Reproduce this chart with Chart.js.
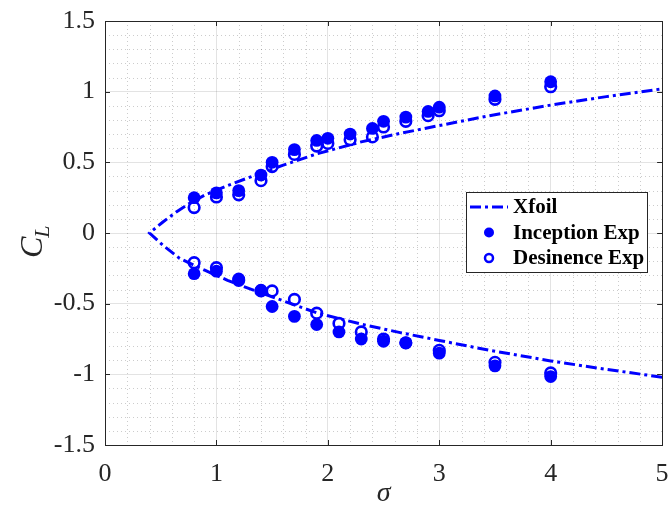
<!DOCTYPE html>
<html>
<head>
<meta charset="utf-8">
<script src="https://cdn.jsdelivr.net/npm/chart.js"></script>
<style>
  html, body { margin: 0; padding: 0; background: #fff; }
  #wrap { width: 670px; height: 515px; }
</style>
</head>
<body>
<div id="wrap"><canvas id="chart" width="670" height="515"></canvas></div>
<script>
// === DATOS ===
// Curva Xfoil (sigma, CL): rama inferior -> vértice -> rama superior
const xfoilSigma = [5.00, 4.50, 4.00, 3.45, 3.00, 2.65, 2.30, 1.90, 1.60, 1.35, 1.10, 0.90, 0.67, 0.52, 0.40,
                    0.52, 0.64, 0.76, 0.90, 1.10, 1.35, 1.60, 1.90, 2.30, 2.65, 3.00, 3.45, 4.00, 4.50, 5.00];
const xfoilCL = [-1.02, -0.965, -0.905, -0.83, -0.76, -0.705, -0.645, -0.565, -0.48, -0.41, -0.335, -0.265, -0.18, -0.087, 0,
                 0.078, 0.149, 0.21, 0.27, 0.335, 0.41, 0.48, 0.56, 0.645, 0.705, 0.76, 0.83, 0.905, 0.965, 1.02];

// Puntos experimentales
const sigmaUpper = [0.8, 1.0, 1.2, 1.4, 1.5, 1.7, 1.9, 2.0, 2.2, 2.4, 2.5, 2.7, 2.9, 3.0, 3.5, 4.0];
const inceptionUpper = [0.25, 0.284, 0.30, 0.41, 0.50, 0.59, 0.655, 0.67, 0.70, 0.74, 0.79, 0.82, 0.86, 0.89, 0.97, 1.07];
const desinenceUpper = [0.18, 0.255, 0.27, 0.37, 0.47, 0.556, 0.615, 0.634, 0.66, 0.68, 0.75, 0.79, 0.83, 0.865, 0.946, 1.035];

const sigmaLower = [0.8, 1.0, 1.2, 1.4, 1.5, 1.7, 1.9, 2.1, 2.3, 2.5, 2.7, 3.0, 3.5, 4.0];
const inceptionLower = [-0.288, -0.27, -0.325, -0.405, -0.52, -0.59, -0.648, -0.70, -0.75, -0.766, -0.777, -0.85, -0.94, -1.016];
const desinenceLower = [-0.21, -0.245, -0.335, -0.41, -0.41, -0.47, -0.567, -0.64, -0.70, -0.75, -0.777, -0.83, -0.915, -0.99];

// Ticks
const xTicks = [0, 1, 2, 3, 4, 5];
const yTicks = [-1.5, -1, -0.5, 0, 0.5, 1, 1.5];
const xMinorStep = 0.2;
const yMinorStep = 0.1;

const legendLabels = ['Xfoil', 'Inception Exp', 'Desinence Exp'];

const BLUE = '#0000ff';
const AXIS = '#262626';
const SERIF = '"Liberation Serif", "Times New Roman", serif';

const toPoints = (xs, ys) => xs.map((x, i) => ({ x: x, y: ys[i] }));

// === PLUGINS ===
const minorGrid = {
  id: 'minorGrid',
  beforeDatasetsDraw(chart) {
    const { ctx, chartArea: a, scales: { x, y } } = chart;
    ctx.save();
    ctx.strokeStyle = 'rgba(0,0,0,0.2)';
    ctx.lineWidth = 1;
    ctx.setLineDash([1, 3]);
    for (let v = x.min + xMinorStep; v < x.max - 1e-6; v += xMinorStep) {
      if (xTicks.some(t => Math.abs(t - v) < 1e-6)) continue;
      const px = Math.round(x.getPixelForValue(v)) + 0.5;
      ctx.beginPath(); ctx.moveTo(px, a.top); ctx.lineTo(px, a.bottom); ctx.stroke();
    }
    for (let v = y.min + yMinorStep; v < y.max - 1e-6; v += yMinorStep) {
      if (yTicks.some(t => Math.abs(t - v) < 1e-6)) continue;
      const py = Math.round(y.getPixelForValue(v)) + 0.5;
      ctx.beginPath(); ctx.moveTo(a.left, py); ctx.lineTo(a.right, py); ctx.stroke();
    }
    ctx.restore();
  }
};

const frame = {
  id: 'frame',
  afterDatasetsDraw(chart) {
    const { ctx, chartArea: a, scales: { x, y } } = chart;
    const tl = 5;
    ctx.save();
    ctx.strokeStyle = AXIS;
    ctx.lineWidth = 1;
    ctx.strokeRect(Math.round(a.left) + 0.5, Math.round(a.top) + 0.5,
                   Math.round(a.right - a.left), Math.round(a.bottom - a.top));
    ctx.beginPath();
    xTicks.forEach(t => {
      const px = Math.round(x.getPixelForValue(t)) + 0.5;
      ctx.moveTo(px, a.bottom); ctx.lineTo(px, a.bottom - tl);
      ctx.moveTo(px, a.top); ctx.lineTo(px, a.top + tl);
    });
    yTicks.forEach(t => {
      const py = Math.round(y.getPixelForValue(t)) + 0.5;
      ctx.moveTo(a.left, py); ctx.lineTo(a.left + tl, py);
      ctx.moveTo(a.right, py); ctx.lineTo(a.right - tl, py);
    });
    ctx.stroke();
    ctx.restore();
  }
};

const legendBox = {
  id: 'legendBox',
  afterDraw(chart) {
    const { ctx } = chart;
    const bx = 466, by = 192, bw = 181, bh = 80;
    ctx.save();
    ctx.fillStyle = '#fff';
    ctx.fillRect(bx, by, bw, bh);
    ctx.strokeStyle = AXIS;
    ctx.lineWidth = 1;
    ctx.strokeRect(bx + 0.5, by + 0.5, bw, bh);

    const rows = [207, 232.5, 258];
    // línea Xfoil
    ctx.strokeStyle = BLUE;
    ctx.lineWidth = 3;
    ctx.setLineDash([11, 4, 3, 4]);
    ctx.beginPath(); ctx.moveTo(470, rows[0]); ctx.lineTo(508, rows[0]); ctx.stroke();
    ctx.setLineDash([]);
    // marcador lleno
    ctx.fillStyle = BLUE;
    ctx.beginPath(); ctx.arc(489, rows[1], 5, 0, Math.PI * 2); ctx.fill();
    // marcador abierto
    ctx.lineWidth = 2.5;
    ctx.beginPath(); ctx.arc(489, rows[2], 4, 0, Math.PI * 2); ctx.stroke();

    ctx.fillStyle = '#000';
    ctx.font = 'bold 21px ' + SERIF;
    ctx.textBaseline = 'middle';
    ctx.textAlign = 'left';
    legendLabels.forEach((t, i) => ctx.fillText(t, 513, rows[i] + 1));
    ctx.restore();
  }
};

const yTitle = {
  id: 'yTitle',
  afterDraw(chart) {
    const { ctx } = chart;
    ctx.save();
    ctx.translate(42, 258);
    ctx.rotate(-Math.PI / 2);
    ctx.fillStyle = AXIS;
    ctx.textBaseline = 'alphabetic';
    ctx.textAlign = 'left';
    ctx.font = 'italic 32px ' + SERIF;
    ctx.fillText('C', 0, 0);
    const w = ctx.measureText('C').width;
    ctx.font = 'italic 22px ' + SERIF;
    ctx.fillText('L', w - 1, 7);
    ctx.restore();
  }
};

// === GRÁFICO ===
const tickFont = { family: SERIF, size: 26 };

new Chart(document.getElementById('chart').getContext('2d'), {
  type: 'scatter',
  data: {
    datasets: [
      {
        label: legendLabels[2],
        data: toPoints(sigmaUpper, desinenceUpper).concat(toPoints(sigmaLower, desinenceLower)),
        pointStyle: 'circle',
        pointRadius: 5.3,
        pointBackgroundColor: 'rgba(0,0,0,0)',
        pointBorderColor: BLUE,
        pointBorderWidth: 2.6,
        order: 1
      },
      {
        label: legendLabels[1],
        data: toPoints(sigmaUpper, inceptionUpper).concat(toPoints(sigmaLower, inceptionLower)),
        pointStyle: 'circle',
        pointRadius: 6.4,
        pointBackgroundColor: BLUE,
        pointBorderColor: BLUE,
        pointBorderWidth: 0,
        order: 2
      },
      {
        label: legendLabels[0],
        data: toPoints(xfoilSigma, xfoilCL),
        showLine: true,
        borderColor: BLUE,
        borderWidth: 3,
        borderDash: [11, 4, 3, 4],
        pointRadius: 0,
        tension: 0,
        fill: false,
        order: 3
      }
    ]
  },
  options: {
    responsive: false,
    devicePixelRatio: 1,
    animation: false,
    layout: { padding: { top: 21, right: 5, left: 0, bottom: 0 } },
    plugins: {
      legend: { display: false },
      tooltip: { enabled: false }
    },
    scales: {
      x: {
        type: 'linear',
        min: 0, max: 5,
        afterBuildTicks: s => { s.ticks = xTicks.map(v => ({ value: v })); },
        afterFit: s => { s.height = 70; s.paddingLeft = 0; s.paddingRight = 0; },
        ticks: { color: AXIS, font: tickFont, padding: 14, autoSkip: false, maxRotation: 0,
                 callback: v => String(v) },
        grid: { color: 'rgba(38,38,38,0.13)', lineWidth: 1, drawTicks: false },
        border: { display: false },
        title: {
          display: true,
          text: 'σ',
          color: AXIS,
          font: { family: SERIF, size: 28, style: 'italic' },
          padding: { top: 0, bottom: 5 }
        }
      },
      y: {
        type: 'linear',
        min: -1.5, max: 1.5,
        afterBuildTicks: s => { s.ticks = yTicks.map(v => ({ value: v })); },
        afterFit: s => { s.width = 105; s.paddingTop = 0; s.paddingBottom = 0; },
        ticks: { color: AXIS, font: tickFont, padding: 10, autoSkip: false,
                 callback: v => String(v) },
        grid: { color: 'rgba(38,38,38,0.13)', lineWidth: 1, drawTicks: false },
        border: { display: false }
      }
    }
  },
  plugins: [minorGrid, frame, legendBox, yTitle]
});
</script>
</body>
</html>
